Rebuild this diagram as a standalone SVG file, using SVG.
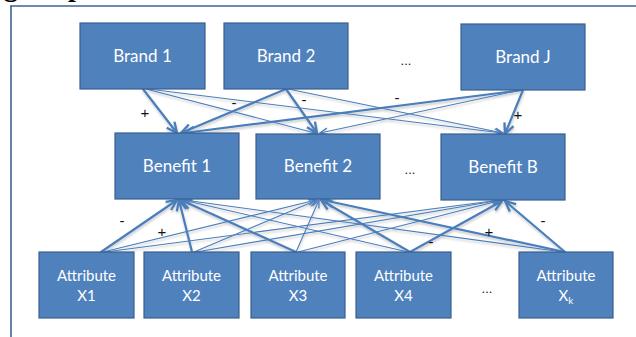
<svg xmlns="http://www.w3.org/2000/svg" width="636" height="337" viewBox="0 0 636 337">
  <style>
    .node rect { fill: #4F81BD; stroke: #3A5F8F; stroke-width: 1.2; }
    .node text { fill: #FFFFFF; font-family: Lato, "Open Sans", "Liberation Sans", sans-serif; text-anchor: middle; }
    .lvl text { font-size: 17px; }
    .attr text { font-size: 15px; }
    .edge { stroke: #4A7EBB; fill: none; stroke-linecap: round; }
    .thick { stroke-width: 2.2; marker-end: url(#arrowBig); }
    .thin { stroke-width: 1.1; marker-end: url(#arrowSmall); }
    .sign { fill: #111111; font-family: "Liberation Sans", Arial, sans-serif; font-size: 15px; text-anchor: middle; }
    .dots { fill: #111111; font-family: "Liberation Sans", Arial, sans-serif; font-size: 13px; text-anchor: middle; }
    .frame { stroke: #3F6396; stroke-width: 1.6; fill: none; }
    .head { font-family: "Liberation Serif", "Times New Roman", serif; font-weight: bold; font-size: 28px; fill: #000000; }
  </style>
  <defs>
    <marker id="arrowBig" markerUnits="userSpaceOnUse" markerWidth="14" markerHeight="14" refX="10" refY="5" orient="auto" viewBox="0 0 12 10">
      <path d="M1,0.8 L10,5 L1,9.2" fill="none" stroke="#4A7EBB" stroke-width="2" stroke-linejoin="miter"/>
    </marker>
    <marker id="arrowSmall" markerUnits="userSpaceOnUse" markerWidth="10" markerHeight="10" refX="8" refY="4" orient="auto" viewBox="0 0 9 8">
      <path d="M1,1 L8,4 L1,7" fill="none" stroke="#4A7EBB" stroke-width="1.2"/>
    </marker>
    <filter id="lineShadow" x="-5%" y="-5%" width="110%" height="120%">
      <feDropShadow dx="0.5" dy="2" stdDeviation="1.2" flood-color="#000000" flood-opacity="0.22"/>
    </filter>
  </defs>

  <rect width="636" height="337" fill="#FFFFFF"/>

  <!-- heading line running off the top edge -->
  <text class="head" x="4" y="-4">g</text>
  <text class="head" x="68" y="-4">p</text>

  <!-- page frame -->
  <path class="frame" d="M10,6 H636 M11,6 V337"/>

  <!-- connectors -->
  <g id="connectors" filter="url(#lineShadow)">
    <!-- brands to benefits -->
    <line class="edge thick" x1="143" y1="89" x2="177" y2="133"/>
    <line class="edge thin" x1="146" y1="89" x2="315" y2="133"/>
    <line class="edge thin" x1="148" y1="89" x2="502" y2="133"/>
    <line class="edge thick" x1="286" y1="89" x2="181" y2="133"/>
    <line class="edge thick" x1="286" y1="89" x2="317" y2="133"/>
    <line class="edge thin" x1="288" y1="89" x2="503" y2="133"/>
    <line class="edge thick" x1="523" y1="90" x2="184" y2="133"/>
    <line class="edge thin" x1="521" y1="90" x2="320" y2="133"/>
    <line class="edge thick" x1="523" y1="90" x2="505" y2="134"/>
    <!-- attributes to benefits -->
    <line class="edge thick" x1="101" y1="252" x2="177" y2="200"/>
    <line class="edge thin" x1="103" y1="252" x2="316" y2="200"/>
    <line class="edge thin" x1="105" y1="252" x2="500" y2="200"/>
    <line class="edge thick" x1="192" y1="252" x2="179" y2="200"/>
    <line class="edge thin" x1="194" y1="252" x2="317" y2="200"/>
    <line class="edge thin" x1="196" y1="252" x2="501" y2="200"/>
    <line class="edge thick" x1="296" y1="252" x2="181" y2="200"/>
    <line class="edge thin" x1="296" y1="252" x2="319" y2="200"/>
    <line class="edge thin" x1="298" y1="252" x2="502" y2="200"/>
    <line class="edge thin" x1="408" y1="252" x2="183" y2="200"/>
    <line class="edge thick" x1="410" y1="252" x2="321" y2="200"/>
    <line class="edge thick" x1="410" y1="252" x2="502" y2="201"/>
    <line class="edge thin" x1="563" y1="252" x2="184" y2="200"/>
    <line class="edge thick" x1="565" y1="252" x2="323" y2="200"/>
    <line class="edge thick" x1="565" y1="252" x2="505" y2="201"/>
  </g>

  <!-- sign labels -->
  <text class="sign" x="145" y="118">+</text>
  <text class="sign" x="234" y="108">-</text>
  <text class="sign" x="304" y="105">-</text>
  <text class="sign" x="397" y="103">-</text>
  <text class="sign" x="518" y="120">+</text>
  <text class="sign" x="122" y="226">-</text>
  <text class="sign" x="162" y="237">+</text>
  <text class="sign" x="431" y="247">-</text>
  <text class="sign" x="489" y="237">+</text>
  <text class="sign" x="543" y="226">-</text>

  <!-- ellipses between nodes -->
  <text class="dots" x="406" y="65">...</text>
  <text class="dots" x="410" y="174">...</text>
  <text class="dots" x="487" y="293">...</text>

  <!-- brands -->
  <g id="brand1" class="node lvl">
    <rect x="80" y="23" width="125" height="66"/>
    <text x="142.5" y="62">Brand 1</text>
  </g>
  <g id="brand2" class="node lvl">
    <rect x="224" y="23" width="124" height="66"/>
    <text x="286" y="62">Brand 2</text>
  </g>
  <g id="brandJ" class="node lvl">
    <rect x="461" y="24" width="124" height="66"/>
    <text x="523" y="63">Brand J</text>
  </g>

  <!-- benefits -->
  <g id="benefit1" class="node lvl">
    <rect x="115" y="133" width="124" height="66"/>
    <text x="177" y="172">Benefit 1</text>
  </g>
  <g id="benefit2" class="node lvl">
    <rect x="256" y="134" width="124" height="65"/>
    <text x="318" y="172">Benefit 2</text>
  </g>
  <g id="benefitB" class="node lvl">
    <rect x="441" y="134" width="124" height="66"/>
    <text x="503" y="173">Benefit B</text>
  </g>

  <!-- attributes -->
  <g id="attrX1" class="node attr">
    <rect x="39" y="252" width="95" height="66"/>
    <text x="86.5" y="281">Attribute</text>
    <text x="86.5" y="301">X1</text>
  </g>
  <g id="attrX2" class="node attr">
    <rect x="144" y="252" width="95" height="66"/>
    <text x="191.5" y="281">Attribute</text>
    <text x="191.5" y="301">X2</text>
  </g>
  <g id="attrX3" class="node attr">
    <rect x="251" y="252" width="94" height="66"/>
    <text x="298" y="281">Attribute</text>
    <text x="298" y="301">X3</text>
  </g>
  <g id="attrX4" class="node attr">
    <rect x="356" y="252" width="95" height="66"/>
    <text x="403.5" y="281">Attribute</text>
    <text x="403.5" y="301">X4</text>
  </g>
  <g id="attrXk" class="node attr">
    <rect x="519" y="252" width="94" height="66"/>
    <text x="566" y="281">Attribute</text>
    <text x="566" y="301">X<tspan font-size="10" dy="3">k</tspan></text>
  </g>
</svg>
